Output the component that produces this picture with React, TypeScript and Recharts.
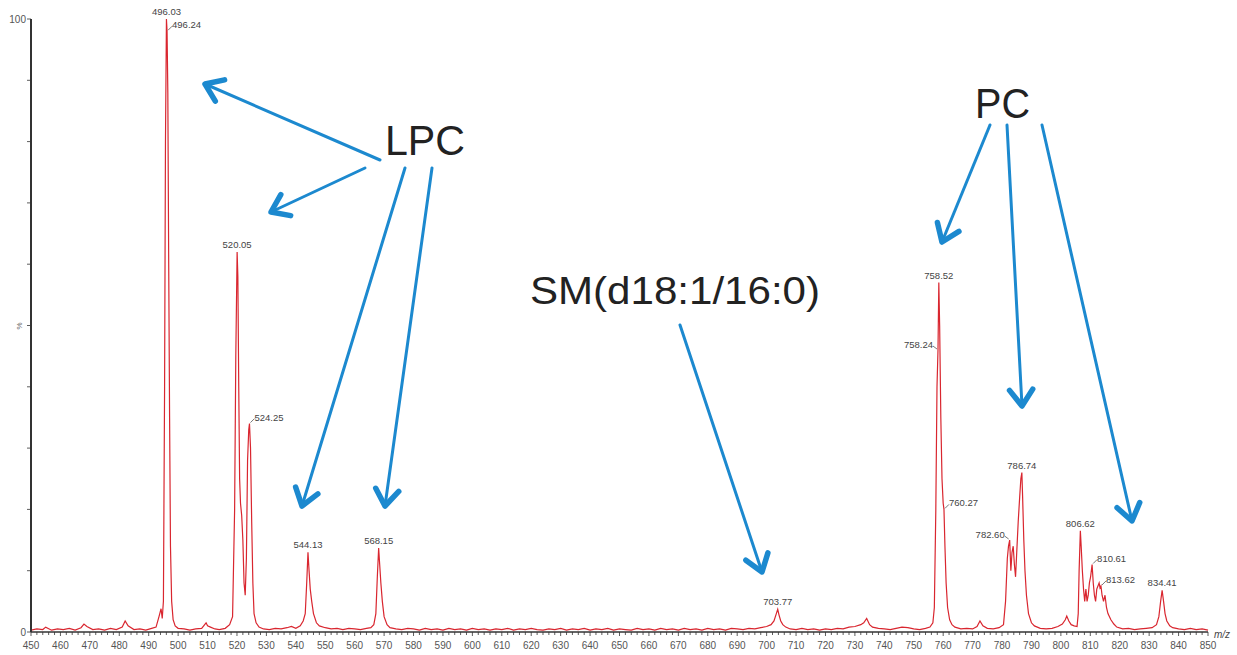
import React from 'react';
import { ComposedChart, Line, Scatter, XAxis, YAxis } from 'recharts';

// profile spectrum: [m/z, relative intensity %]
const spectrum: [number, number][] = [
  [450, 0.3], [452, 0.5], [454, 0.4], [455, 0.8], [457, 0.3], [459, 0.5], [461, 0.4], [463, 0.6],
  [465, 0.3], [467, 0.7], [468, 1.3], [469, 0.9], [471, 0.4], [473, 0.5], [475, 0.3], [477, 0.6],
  [479, 0.4], [481, 0.8], [482, 1.8], [483, 1.0], [485, 0.4], [487, 0.5], [489, 0.3], [491, 0.6],
  [492.5, 0.8], [493.5, 2.5], [494.2, 3.8], [494.6, 2.2], [495.0, 5], [495.4, 40], [495.7, 80],
  [496.03, 100], [496.24, 98], [496.5, 88], [496.8, 60], [497.1, 35], [497.4, 14], [497.8, 5],
  [498.3, 2], [499, 1], [500, 0.6], [502, 0.5], [504, 0.3], [506, 0.5], [508, 0.6], [509.5, 1.5],
  [510, 1.0], [511, 0.8], [512.5, 0.5], [514, 0.4], [516, 0.6], [517.5, 1.2], [518.5, 2.5],
  [519.2, 20], [519.6, 45], [520.05, 62], [520.3, 58], [520.6, 40], [520.9, 25], [521.2, 21],
  [521.6, 19], [522.0, 15], [522.4, 8], [522.8, 6], [523.2, 12], [523.6, 28], [524.0, 33],
  [524.25, 34], [524.6, 30], [525.0, 18], [525.4, 8], [525.8, 3], [526.5, 1.5], [527.5, 0.8],
  [529, 0.5], [531, 0.4], [533, 0.6], [535, 0.5], [537, 0.7], [538.5, 0.9], [540, 0.6],
  [541.5, 1.0], [542.5, 1.8], [543.2, 3], [543.7, 8], [544.13, 13], [544.5, 10], [544.9, 7],
  [545.4, 5], [546, 3], [547, 1.5], [548, 1.0], [550, 0.7], [552, 0.5], [554, 0.6], [556, 0.4],
  [558, 0.6], [560, 0.5], [562, 0.4], [564, 0.6], [565.5, 0.7], [566.5, 1.2], [567.2, 3],
  [567.7, 9], [568.15, 13.7], [568.5, 11], [568.9, 8], [569.4, 5], [570, 2.5], [571, 1.2],
  [572, 0.7], [574, 0.5], [576, 0.4], [578, 0.6], [580, 0.5], [582, 0.3], [584, 0.6], [586, 0.4],
  [588, 0.5], [590, 0.3], [592, 0.6], [594, 0.4], [596, 0.5], [598, 0.3], [600, 0.6], [602, 0.4],
  [604, 0.5], [606, 0.3], [608, 0.5], [610, 0.4], [612, 0.6], [614, 0.3], [616, 0.5], [618, 0.4],
  [620, 0.6], [622, 0.4], [624, 0.3], [626, 0.5], [628, 0.4], [630, 0.6], [632, 0.3], [634, 0.5],
  [636, 0.4], [638, 0.6], [640, 0.3], [642, 0.5], [644, 0.4], [646, 0.6], [648, 0.3], [650, 0.5],
  [652, 0.4], [654, 0.3], [656, 0.6], [658, 0.4], [660, 0.5], [662, 0.3], [664, 0.6], [666, 0.4],
  [668, 0.5], [670, 0.3], [672, 0.6], [674, 0.4], [676, 0.5], [678, 0.3], [680, 0.6], [682, 0.4],
  [684, 0.5], [686, 0.3], [688, 0.6], [690, 0.5], [692, 0.4], [694, 0.6], [696, 0.5], [698, 0.7],
  [700, 0.9], [701.5, 1.2], [702.5, 1.8], [703.3, 3], [703.77, 3.7], [704.2, 2.8], [704.8, 1.8],
  [705.5, 1.2], [706.5, 0.8], [708, 0.5], [710, 0.4], [712, 0.6], [714, 0.4], [716, 0.5],
  [718, 0.3], [720, 0.5], [722, 0.4], [724, 0.6], [726, 0.5], [728, 0.8], [730, 0.9], [732, 1.2],
  [733, 1.5], [734, 2.2], [735, 1.2], [736, 0.8], [738, 0.6], [740, 0.5], [742, 0.4], [744, 0.6],
  [746, 0.8], [748, 0.7], [750, 0.5], [752, 0.4], [754, 0.6], [755.5, 0.8], [756.5, 1.5],
  [757, 4], [757.5, 20], [757.9, 40], [758.24, 46], [758.52, 57], [758.8, 50], [759.2, 35],
  [759.6, 25], [760.0, 21], [760.27, 20], [760.6, 14], [761.0, 8], [761.5, 4], [762.2, 2],
  [763, 1.2], [764, 0.8], [766, 0.5], [768, 0.6], [770, 0.5], [771.5, 0.9], [772.5, 1.8],
  [773.5, 1.0], [775, 0.6], [777, 0.5], [779, 0.7], [780.5, 1.2], [781.2, 5], [781.8, 12],
  [782.2, 14], [782.6, 15], [783.0, 10], [783.4, 13], [783.8, 14], [784.2, 11], [784.6, 9],
  [785.0, 13], [785.5, 18], [786.0, 22], [786.4, 25], [786.74, 26], [787.0, 22], [787.4, 15],
  [787.8, 10], [788.3, 6], [789, 3], [790, 1.5], [791, 1.0], [793, 0.6], [795, 0.5], [797, 0.6],
  [799, 0.9], [800.5, 1.3], [801.5, 2.0], [802, 2.6], [802.7, 1.8], [803.5, 1.2], [804.5, 1.0],
  [805.5, 0.9], [805.9, 3], [806.2, 10], [806.62, 16.5], [806.9, 14], [807.3, 10], [807.7, 7],
  [808.1, 5], [808.5, 7], [808.9, 5], [809.3, 6], [809.7, 8], [810.1, 9], [810.61, 11], [811, 8],
  [811.4, 6], [811.8, 5], [812.2, 7], [812.6, 7.5], [813.0, 8], [813.3, 7.2], [813.62, 7.5],
  [814, 6], [814.5, 5], [815, 6], [815.5, 4], [816, 3], [817, 2], [818, 1.3], [819, 0.8],
  [821, 0.5], [823, 0.6], [825, 0.4], [827, 0.5], [829, 0.6], [831, 0.7], [832.5, 1.2],
  [833.3, 2.5], [833.9, 5], [834.41, 6.8], [834.9, 5], [835.4, 3], [836, 1.8], [837, 1.0],
  [838, 0.7], [840, 0.5], [842, 0.4], [844, 0.6], [846, 0.4], [848, 0.5], [850, 0.3],
];

// annotated peaks
const peakMz = [496.03, 496.24, 520.05, 524.25, 544.13, 568.15, 703.77, 758.52, 758.24, 760.27, 782.6, 786.74, 806.62, 810.61, 813.62, 834.41];
const peakIntensity = [100, 98, 62, 34, 13, 13.7, 3.7, 57, 46, 20, 15, 26, 16.5, 11, 7.5, 6.8];
const peakText = ['496.03', '496.24', '520.05', '524.25', '544.13', '568.15', '703.77', '758.52', '758.24', '760.27', '782.60', '786.74', '806.62', '810.61', '813.62', '834.41'];

const yTicks = [0, 10, 20, 30, 40, 50, 60, 70, 80, 90, 100];

const spectrumData = spectrum.map(([mz, i]) => ({ mz, i }));
const peakData = peakMz.map((mz, k) => ({ mz, i: peakIntensity[k], text: peakText[k] }));
// x ticks every 2 m/z, labelled every 10
const xTicks: number[] = [];
for (let v = 450; v <= 850; v += 2) xTicks.push(v);

// where each peak label sits relative to its peak
const placement: Record<string, 'top' | 'left' | 'right'> = {
  '496.24': 'right', '524.25': 'right', '758.24': 'left', '760.27': 'right',
  '782.60': 'left', '810.61': 'right', '813.62': 'right',
};

const AXIS = '#333';
const BLUE = '#1c89cf';
const RED = '#d9262f';
const FONT = 'Arial, Liberation Sans, sans-serif';

const PeakLabel = (props: any) => {
  const { cx, cy, payload } = props;
  const where = placement[payload.text] || 'top';
  const style = { fontSize: 9.5, fill: '#444', fontFamily: FONT };
  if (where === 'top') {
    return <text x={cx} y={cy - 4} textAnchor="middle" {...style}>{payload.text}</text>;
  }
  if (where === 'right') {
    return (
      <g>
        <line x1={cx + 1} y1={cy - 1} x2={cx + 5} y2={cy - 5} stroke="#555" strokeWidth={0.8} />
        <text x={cx + 5} y={cy - 3} textAnchor="start" {...style}>{payload.text}</text>
      </g>
    );
  }
  return (
    <g>
      <line x1={cx - 1} y1={cy - 1} x2={cx - 5} y2={cy - 4} stroke="#555" strokeWidth={0.8} />
      <text x={cx - 5} y={cy - 2} textAnchor="end" {...style}>{payload.text}</text>
    </g>
  );
};

const XTick = (props: any) => {
  const { x, y, payload } = props;
  const major = payload.value % 10 === 0;
  return (
    <g>
      <line x1={x} y1={y - 8} x2={x} y2={y - 8 + (major ? 4 : 3)} stroke={AXIS} strokeWidth={0.8} />
      {major && (
        <text x={x} y={y + 9} textAnchor="middle" fontSize={10} fill="#555" fontFamily={FONT}>
          {payload.value}
        </text>
      )}
    </g>
  );
};

const YTick = (props: any) => {
  const { x, y, payload } = props;
  const show = payload.value === 0 || payload.value === 100;
  return (
    <g>
      <line x1={x + 4} y1={y} x2={x + 8} y2={y} stroke={AXIS} strokeWidth={0.8} />
      {show && (
        <text x={x + 3} y={y + 3.5} textAnchor="end" fontSize={10} fill="#555" fontFamily={FONT}>
          {payload.value}
        </text>
      )}
    </g>
  );
};

const Arrow = ({ x1, y1, x2, y2 }: { x1: number; y1: number; x2: number; y2: number }) => {
  const a = Math.atan2(y1 - y2, x1 - x2);
  const len = 20;
  const spread = 0.62;
  return (
    <g stroke={BLUE} strokeLinecap="round" strokeLinejoin="round" fill="none">
      <line x1={x1} y1={y1} x2={x2} y2={y2} strokeWidth={3} />
      <polyline
        points={`${x2 + len * Math.cos(a + spread)},${y2 + len * Math.sin(a + spread)} ${x2},${y2} ${x2 + len * Math.cos(a - spread)},${y2 + len * Math.sin(a - spread)}`}
        strokeWidth={5.5}
      />
    </g>
  );
};

const arrows = [
  { x1: 380, y1: 160, x2: 205, y2: 84 },
  { x1: 365, y1: 168, x2: 271, y2: 212 },
  { x1: 405, y1: 168, x2: 302, y2: 506 },
  { x1: 432, y1: 168, x2: 385, y2: 506 },
  { x1: 990, y1: 125, x2: 942, y2: 242 },
  { x1: 1007, y1: 125, x2: 1022, y2: 406 },
  { x1: 1042, y1: 125, x2: 1132, y2: 521 },
  { x1: 680, y1: 325, x2: 762, y2: 572 },
];

export default function App() {
  return (
    <div style={{ position: 'absolute', left: 0, top: 0, width: 1237, height: 655, background: '#fff' }}>
      <ComposedChart width={1237} height={655} margin={{ top: 19, right: 29, bottom: 0, left: 0 }}>
        <XAxis
          dataKey="mz"
          type="number"
          domain={[450, 850]}
          ticks={xTicks}
          interval={0}
          tick={<XTick />}
          tickLine={false}
          axisLine={{ stroke: AXIS, strokeWidth: 1.5 }}
          height={23}
        />
        <YAxis
          type="number"
          domain={[0, 100]}
          ticks={yTicks}
          interval={0}
          tick={<YTick />}
          tickLine={false}
          axisLine={{ stroke: AXIS, strokeWidth: 2 }}
          width={31}
        />
        <Line
          data={spectrumData}
          dataKey="i"
          type="linear"
          stroke={RED}
          strokeWidth={1.2}
          dot={false}
          isAnimationActive={false}
        />
        <Scatter data={peakData} dataKey="i" shape={<PeakLabel />} isAnimationActive={false} />
      </ComposedChart>
      <svg width={1237} height={655} style={{ position: 'absolute', left: 0, top: 0, pointerEvents: 'none' }}>
        <text x={22} y={326} fontSize={8} fill="#666" fontFamily={FONT} transform="rotate(-90 22 326)" textAnchor="middle">%</text>
        <text x={1214} y={638} fontSize={10} fill="#444" fontStyle="italic" fontFamily={FONT}>m/z</text>
        {arrows.map((a, k) => <Arrow key={k} {...a} />)}
        <text x={385} y={155} fontSize={42} fill="#222" fontFamily={FONT} textLength={80} lengthAdjust="spacingAndGlyphs">LPC</text>
        <text x={975} y={118} fontSize={42} fill="#222" fontFamily={FONT} textLength={55} lengthAdjust="spacingAndGlyphs">PC</text>
        <text x={530} y={304} fontSize={38} fill="#222" fontFamily={FONT} textLength={290} lengthAdjust="spacingAndGlyphs">SM(d18:1/16:0)</text>
      </svg>
    </div>
  );
}
